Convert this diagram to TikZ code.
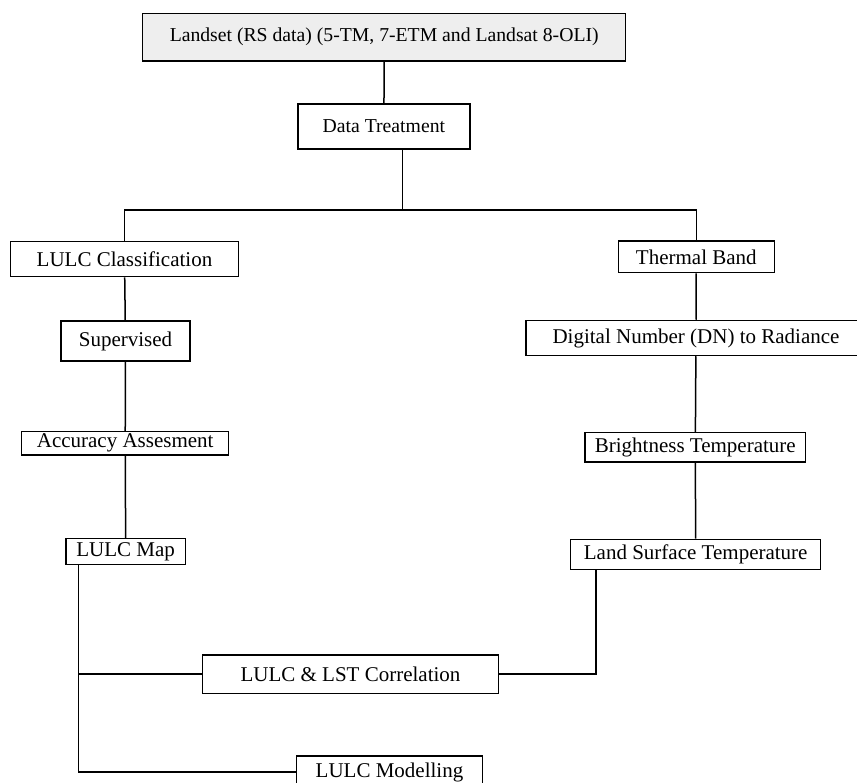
\documentclass[tikz,border=0pt]{standalone}
\usepackage{fontspec}
\setmainfont{Liberation Serif}
\definecolor{srcgray}{HTML}{EEEEEE}
\tikzset{
  box/.style={draw, line width=1.5pt, inner sep=0pt, font=\fontsize{21}{25}\selectfont},
  topbox/.style={box, font=\fontsize{19.7}{24}\selectfont},
  link/.style={line width=1.5pt}
}
\begin{document}
\begin{tikzpicture}[x=1pt,y=-1pt]
            \useasboundingbox (0,0) rectangle (857,783);
            % top part
            \node[topbox, fill=srcgray, minimum width=483pt, minimum height=47.7pt] (src) at (384.2,37.2) {Landset (RS data) (5-TM, 7-ETM and Landsat 8-OLI)};
            \node[topbox, minimum width=172.3pt, minimum height=45pt] (treat) at (383.9,126.5) {Data Treatment};
            \coordinate (bar) at (402.7,210);
            % left branch
            \node[box, minimum width=227.6pt, minimum height=35pt] (lulc) at (124.5,259.2) {LULC Classification};
            \node[box, minimum width=129pt, minimum height=40pt] (superv) at (125.5,341) {Supervised};
            \node[box, minimum width=207pt, minimum height=23.3pt] (acc) at (125.2,443.3) {Accuracy Assesment};
            \node[box, minimum width=119.3pt, minimum height=26pt] (lmap) at (125.7,551.7) {LULC Map};
            % right branch
            \node[box, minimum width=156pt, minimum height=31.7pt] (therm) at (696.3,256.9) {Thermal Band};
            \node[box, minimum width=340pt, minimum height=35pt] (dn) at (696,338) {Digital Number (DN) to Radiance};
            \node[box, minimum width=220.7pt, minimum height=29.3pt] (bright) at (695.3,447.3) {Brightness Temperature};
            \node[box, minimum width=250pt, minimum height=30pt] (lst) at (695.7,554.3) {Land Surface Temperature};
            % bottom part
            \node[box, minimum width=295.6pt, minimum height=38.3pt] (corr) at (350.5,674.2) {LULC \& LST Correlation};
            \node[box, minimum width=185.6pt, minimum height=32pt] (model) at (389.5,772) {LULC Modelling};
            \coordinate (trunk) at (78.7,600);
            \coordinate (drop) at (596,600);
            % connectors
            \draw[link] (src) -- (treat);
            \draw[link] (treat.south -| bar) -- (bar);
            \draw[link] (lulc.north) |- (bar) -| (therm.north);
            \draw[link] (lulc) -- (superv);
            \draw[link] (superv) -- (acc);
            \draw[link] (acc) -- (lmap);
            \draw[link] (therm) -- (dn);
            \draw[link] (dn) -- (bright);
            \draw[link] (bright) -- (lst);
            \draw[link] (lmap.south -| trunk) |- (model.west);
            \draw[link] (corr.west -| trunk) -- (corr.west);
            \draw[link] (lst.south -| drop) |- (corr.east);
        \end{tikzpicture}
\end{document}
